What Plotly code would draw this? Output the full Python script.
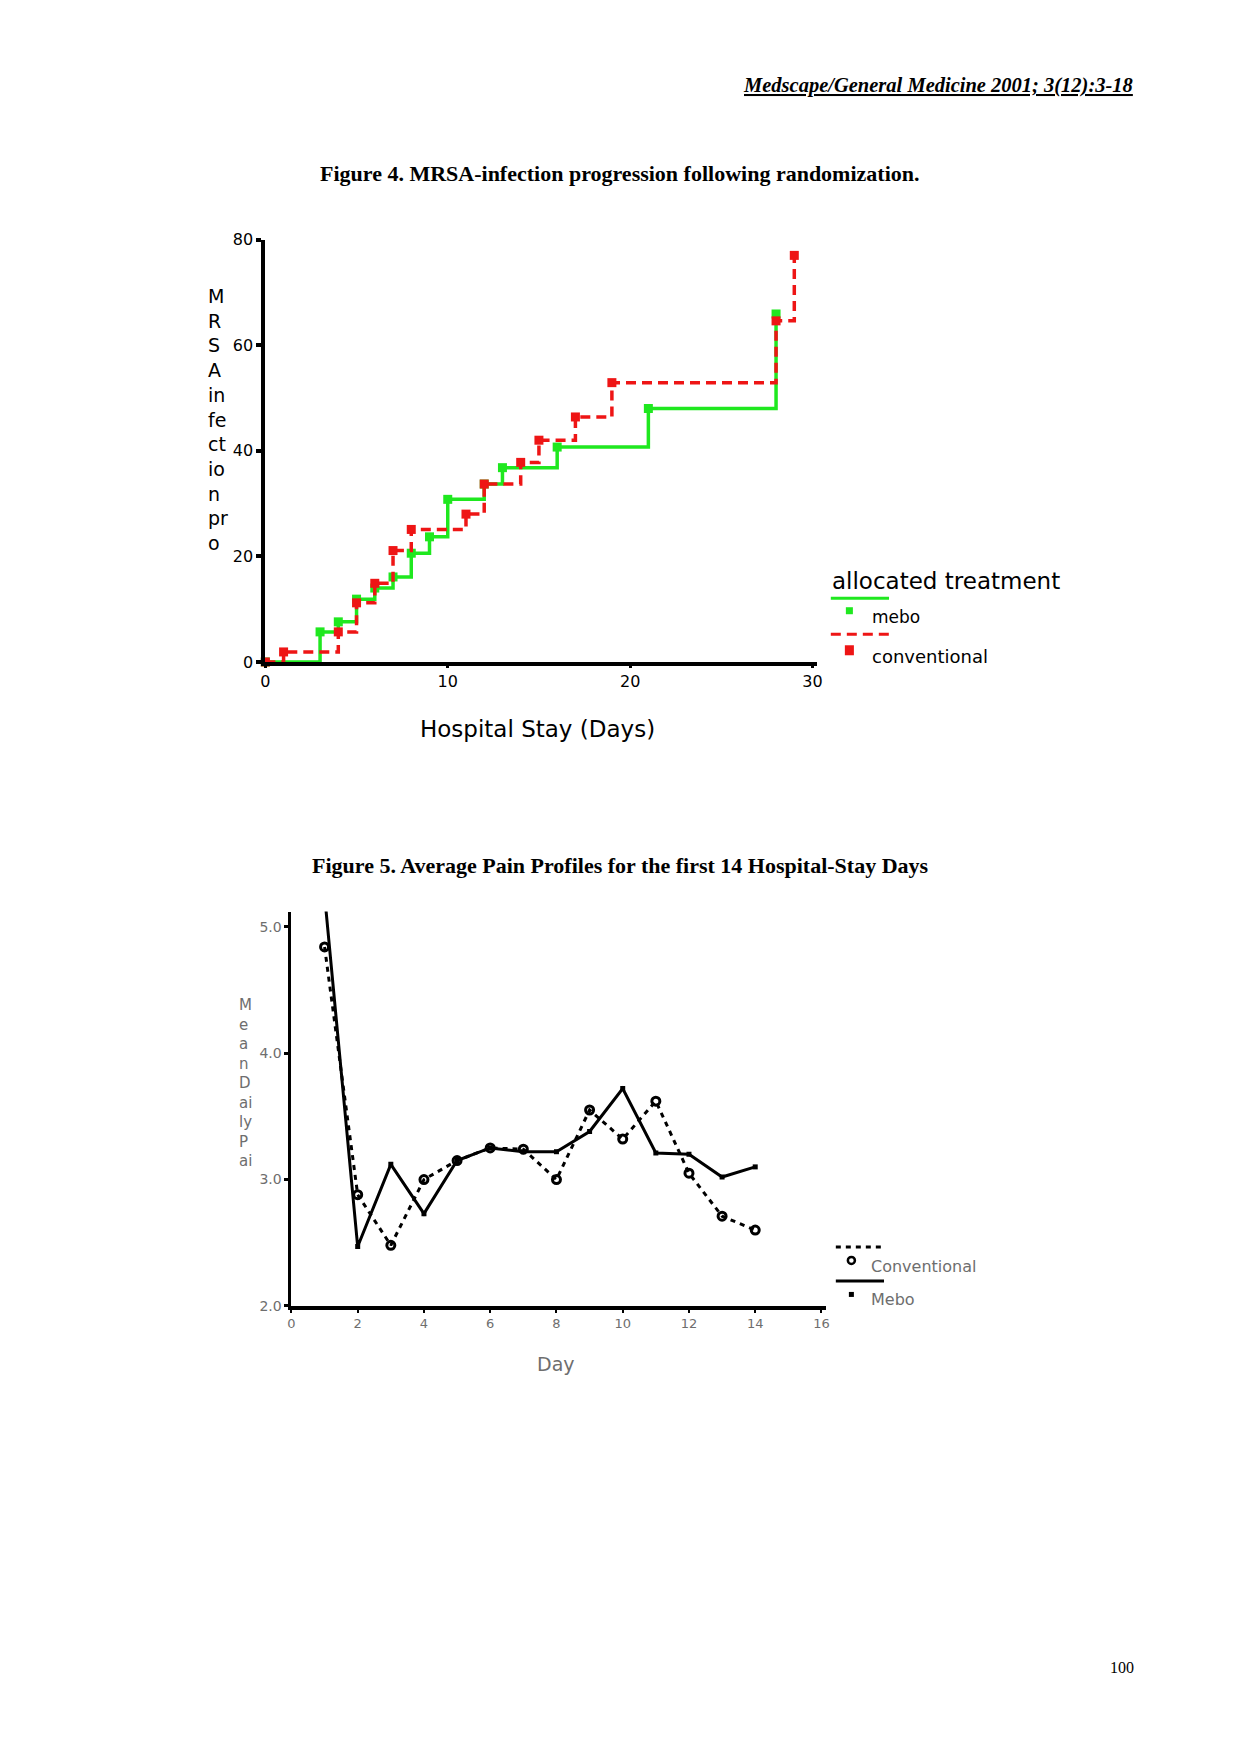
import plotly.graph_objects as go

W, H = 1240, 1754

# Figure 4: cumulative MRSA infection, step curves
mebo_days = [0, 3, 4, 5, 6, 7, 8, 9, 10, 12, 13, 16, 21, 28]
mebo_mrsa = [0, 5.7, 7.6, 11.9, 14.0, 16.1, 20.6, 23.7, 30.8, 33.7, 36.8, 40.7, 48.0, 65.9]
conv_days = [0, 1, 4, 5, 6, 7, 8, 11, 12, 14, 15, 17, 19, 28, 29]
conv_mrsa = [0, 1.9, 5.7, 11.2, 14.9, 21.1, 25.1, 28.0, 33.7, 37.8, 42.0, 46.4, 52.9, 64.6, 77.0]
fig4_xticks = [0, 10, 20, 30]
fig4_yticks = [0, 20, 40, 60, 80]

# Figure 5: mean daily pain, first 14 days
pain_days = [1, 2, 3, 4, 5, 6, 7, 8, 9, 10, 11, 12, 13, 14]
pain_conv = [4.84, 2.88, 2.48, 3.0, 3.15, 3.25, 3.24, 3.0, 3.55, 3.32, 3.62, 3.05, 2.71, 2.6]
pain_mebo = [5.25, 2.47, 3.12, 2.73, 3.15, 3.25, 3.22, 3.22, 3.38, 3.72, 3.21, 3.2, 3.02, 3.1]
fig5_xticks = [0, 2, 4, 6, 8, 10, 12, 14, 16]
fig5_yticks = [2.0, 3.0, 4.0, 5.0]

GREEN = "#1fe81f"
RED = "#ee1515"
GRAY = "#6e6e6e"
SANS = "DejaVu Sans"
SERIF = "Liberation Serif"

# the page comes out shrunk ~1.2% around its centre, so spread positions out to compensate
SPREAD = 1.012


def px(x):
    return (620 + (x - 620) * SPREAD) / W


def py(y):
    return 1 - (877 + (y - 877) * SPREAD) / H


def note(text, x, y, size, family=SANS, color="black", xanchor="center", yanchor="middle", align="center"):
    return dict(text=text, x=px(x), y=py(y), xref="paper", yref="paper", showarrow=False,
                xanchor=xanchor, yanchor=yanchor, align=align,
                font=dict(family=family, size=size, color=color))


def key_line(x0, x1, y, color, dash="solid"):
    return dict(type="line", xref="paper", yref="paper", x0=px(x0), x1=px(x1), y0=py(y), y1=py(y),
                line=dict(color=color, width=3, dash=dash))


def key_box(x0, x1, y0, y1, color, kind="rect"):
    if kind == "circle":
        return dict(type="circle", xref="paper", yref="paper", x0=px(x0), x1=px(x1), y0=py(y0), y1=py(y1),
                    line=dict(color=color, width=2.5))
    return dict(type="rect", xref="paper", yref="paper", x0=px(x0), x1=px(x1), y0=py(y0), y1=py(y1),
                fillcolor=color, line=dict(width=0))


fig = go.Figure()

fig.add_trace(go.Scatter(
    x=mebo_days, y=mebo_mrsa, name="mebo", mode="lines+markers",
    line=dict(color=GREEN, width=3.5, shape="hv"),
    marker=dict(symbol="square", size=9, color=GREEN),
    cliponaxis=False, xaxis="x", yaxis="y",
))
fig.add_trace(go.Scatter(
    x=conv_days, y=conv_mrsa, name="conventional", mode="lines+markers",
    line=dict(color=RED, width=3.5, shape="hv", dash="10px,6px"),
    marker=dict(symbol="square", size=9, color=RED),
    cliponaxis=False, xaxis="x", yaxis="y",
))

fig.add_trace(go.Scatter(
    x=pain_days, y=pain_conv, name="Conventional", mode="lines+markers",
    line=dict(color="black", width=3, dash="5px,5px"),
    marker=dict(symbol="circle-open", size=8, color="black", line=dict(width=3)),
    xaxis="x2", yaxis="y2",
))
fig.add_trace(go.Scatter(
    x=pain_days, y=pain_mebo, name="Mebo", mode="lines+markers",
    line=dict(color="black", width=3),
    marker=dict(symbol="square", size=5, color="black"),
    xaxis="x2", yaxis="y2",
))

axis_common = dict(showgrid=False, zeroline=False, showline=True, linecolor="black",
                   ticks="outside", tickcolor="black", fixedrange=True)

shapes = [
    # figure 4 legend keys
    key_line(830, 888, 599, GREEN),
    key_box(845, 852, 608, 615, GREEN),
    key_line(830, 888, 635, RED, "10px,6px"),
    key_box(844, 853, 646, 656, RED),
    # figure 5 legend keys
    key_line(835, 883, 1247, "black", "5px,5px"),
    key_box(847, 854, 1257, 1264, "black", "circle"),
    key_line(835, 883, 1281, "black"),
    key_box(848, 853, 1292, 1297, "black"),
]

annotations = [
    note("<b><i><u>Medscape/General Medicine 2001; 3(12):3-18</u></i></b>", 1133, 87, 20.5, SERIF, xanchor="right"),
    note("<b>Figure 4. MRSA-infection progression following randomization.</b>", 620, 175, 22, SERIF),
    note("M<br>R<br>S<br>A<br>in<br>fe<br>ct<br>io<br>n<br>pr<br>o", 208, 284, 19,
         xanchor="left", yanchor="top", align="left"),
    note("Hospital Stay (Days)", 538, 730, 23),
    note("allocated treatment", 829, 582, 23, xanchor="left"),
    note("mebo", 869, 618, 17, xanchor="left"),
    note("conventional", 869, 657, 18, xanchor="left"),
    note("<b>Figure 5. Average Pain Profiles for the first 14 Hospital-Stay Days</b>", 620, 866, 22, SERIF),
    note("M<br>e<br>a<br>n<br>D<br>ai<br>ly<br>P<br>ai", 238, 994, 15, color=GRAY,
         xanchor="left", yanchor="top", align="left"),
    note("Day", 556, 1364, 19, color=GRAY),
    note("Conventional", 868, 1267, 16, color=GRAY, xanchor="left"),
    note("Mebo", 868, 1300, 16, color=GRAY, xanchor="left"),
    note("100", 1120, 1667, 16, SERIF),
]

fig.update_layout(
    width=W, height=H, autosize=False,
    margin=dict(l=0, r=0, t=0, b=0),
    paper_bgcolor="white", plot_bgcolor="white",
    showlegend=False,
    xaxis=dict(axis_common, domain=[px(266.7), px(816.7)], range=[0, 30.27],
               tickvals=fig4_xticks, linewidth=4, ticklen=2, tickwidth=3,
               tickfont=dict(family=SANS, size=16, color="black"), anchor="y"),
    yaxis=dict(axis_common, domain=[py(662.7), py(240.7)], range=[0, 80],
               tickvals=fig4_yticks, linewidth=4, ticklen=5, tickwidth=4,
               tickfont=dict(family=SANS, size=16, color="black"), anchor="x"),
    xaxis2=dict(axis_common, domain=[px(292.7), px(825)], range=[0, 16.13],
                tickvals=fig5_xticks, linewidth=3.5, ticklen=3, tickwidth=2,
                tickfont=dict(family=SANS, size=13, color=GRAY), anchor="y2"),
    yaxis2=dict(axis_common, domain=[py(1306), py(912)], range=[2, 5.12],
                tickvals=fig5_yticks, tickformat=".1f", linewidth=3, ticklen=4, tickwidth=3,
                tickfont=dict(family=SANS, size=14, color=GRAY), anchor="x2"),
    shapes=shapes,
    annotations=annotations,
)

# the page's default body margin would shift the whole figure
fig.write_html("out.html", config={"displayModeBar": False},
               post_script="document.body.style.margin='0';document.body.style.overflow='hidden';")
